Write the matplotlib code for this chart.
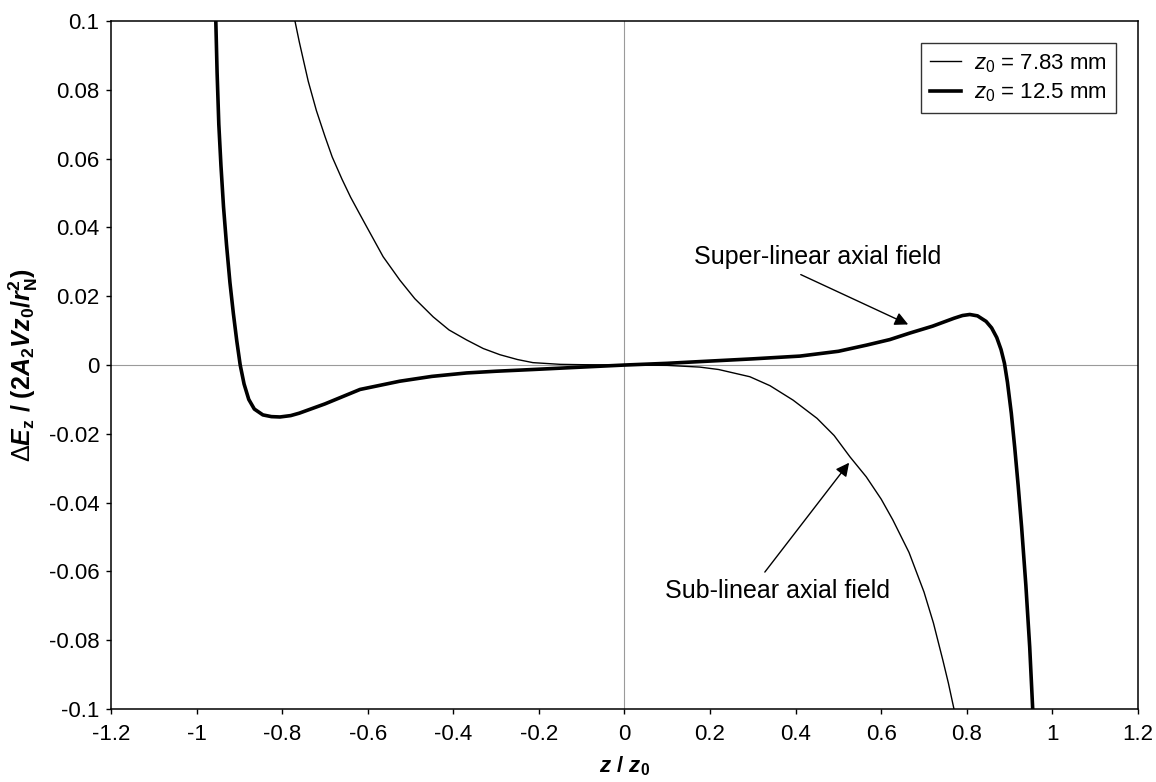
import numpy as np
import matplotlib
matplotlib.use("Agg")
import matplotlib.pyplot as plt
from matplotlib.ticker import FuncFormatter

plt.rcParams["font.family"] = ["Liberation Sans", "DejaVu Sans"]
plt.rcParams["mathtext.fontset"] = "custom"
plt.rcParams["mathtext.rm"] = "Liberation Sans"
plt.rcParams["mathtext.it"] = "Liberation Sans:italic"
plt.rcParams["mathtext.bf"] = "Liberation Sans:bold"
plt.rcParams["mathtext.bfit"] = "Liberation Sans:bold:italic"
plt.rcParams["axes.unicode_minus"] = False

# ─── data ────────────────────────────────────────────────────────────────────
# z0 = 7.83 mm (thin curve)
z_thin = [-0.770, -0.760, -0.750, -0.739, -0.720, -0.700, -0.683, -0.660,
          -0.640, -0.620, -0.602, -0.564, -0.525, -0.490, -0.447, -0.410,
          -0.369, -0.330, -0.291, -0.250, -0.214, -0.150, -0.100, 0.0,
          0.100, 0.176, 0.220, 0.293, 0.340, 0.394, 0.450, 0.490, 0.527,
          0.565, 0.600, 0.627, 0.665, 0.700, 0.722, 0.744, 0.757, 0.770]
dE_thin = [0.100, 0.094, 0.0885, 0.0825, 0.0740, 0.0665, 0.0605, 0.0540,
           0.0488, 0.0442, 0.0401, 0.0315, 0.0247, 0.0193, 0.0140, 0.0102,
           0.0073, 0.0048, 0.0030, 0.0016, 0.0007, 0.0002, 0.0001, 0.0,
           -0.0001, -0.0006, -0.0013, -0.0034, -0.0060, -0.0102, -0.0155,
           -0.0205, -0.0267, -0.0325, -0.0390, -0.0450, -0.0545, -0.0660,
           -0.0750, -0.0858, -0.0925, -0.100]

# z0 = 12.5 mm (thick curve)
z_thick = [-0.955, -0.952, -0.948, -0.943, -0.937, -0.930, -0.922, -0.914,
           -0.906, -0.898, -0.889, -0.878, -0.865, -0.845, -0.825, -0.805,
           -0.780, -0.760, -0.700, -0.618, -0.525, -0.450, -0.369, -0.300,
           -0.214, -0.100, 0.0, 0.100, 0.176, 0.300, 0.410, 0.500, 0.566,
           0.620, 0.667, 0.720, 0.770, 0.790, 0.807, 0.825, 0.845, 0.858,
           0.870, 0.880, 0.888, 0.895, 0.904, 0.912, 0.920, 0.928, 0.938,
           0.947, 0.954]
dE_thick = [0.100, 0.085, 0.070, 0.058, 0.046, 0.035, 0.024, 0.015,
            0.007, 0.0, -0.0055, -0.0100, -0.0128, -0.0145, -0.0150, -0.0151,
            -0.0147, -0.0140, -0.0113, -0.0071, -0.0047, -0.0033, -0.0023,
            -0.0018, -0.0013, -0.0006, 0.0, 0.0005, 0.0010, 0.0018, 0.0026,
            0.0040, 0.0058, 0.0074, 0.0093, 0.0113, 0.0136, 0.0144, 0.0147,
            0.0143, 0.0127, 0.0108, 0.0080, 0.0045, 0.0005, -0.0050,
            -0.0140, -0.0240, -0.0350, -0.0470, -0.0640, -0.0820, -0.1000]

x_ticks = np.arange(-1.2, 1.21, 0.2)
y_ticks = np.arange(-0.1, 0.101, 0.02)


def tick_fmt(v, pos):
    v = round(v, 4)
    if abs(v) < 1e-9:
        return "0"
    return f"{v:g}"


# ─── figure ──────────────────────────────────────────────────────────────────
fig = plt.figure(figsize=(11.56, 7.82), dpi=100)
ax = fig.add_axes([0.096, 0.0934, 0.8884, 0.8796])

ax.axhline(0, color="#9a9a9a", linewidth=0.8, zorder=1)
ax.axvline(0, color="#9a9a9a", linewidth=0.8, zorder=1)

ax.plot(z_thin, dE_thin, color="black", linewidth=1.0,
        label=r"$\it{z}_\mathrm{0}$ = 7.83 mm", zorder=3)
ax.plot(z_thick, dE_thick, color="black", linewidth=2.6,
        label=r"$\it{z}_\mathrm{0}$ = 12.5 mm", zorder=3)

ax.set_xlim(-1.2, 1.2)
ax.set_ylim(-0.1, 0.1)
ax.set_xticks(x_ticks)
ax.set_yticks(y_ticks)
ax.xaxis.set_major_formatter(FuncFormatter(tick_fmt))
ax.yaxis.set_major_formatter(FuncFormatter(tick_fmt))
ax.tick_params(axis="both", direction="out", length=3.5, width=1.0,
               labelsize=16, colors="black")
ax.tick_params(axis="y", pad=5)
ax.tick_params(axis="x", pad=7)
for s in ax.spines.values():
    s.set_linewidth(1.1)
    s.set_color("black")

ax.set_xlabel(r"$\mathbfit{z}\ \mathbf{/}\ \mathbfit{z}_\mathbf{0}$",
              fontsize=16, labelpad=7)
ax.set_ylabel(r"$\Delta\mathbfit{E}_\mathbf{z}\ \mathbf{/\ (2}\mathbfit{A}_\mathbf{2}"
              r"\mathbfit{Vz}_\mathbf{0}\mathbf{/}\mathbfit{r}_\mathbf{N}^\mathbf{2}\mathbf{)}$",
              fontsize=18, labelpad=6)

# annotations: label text plus separate arrow (tail, head)
arrow_kw = dict(arrowstyle="-|>", color="black", lw=1.0,
                mutation_scale=20, shrinkA=0, shrinkB=0)
ax.text(0.452, 0.0315, "Super-linear axial field", ha="center", va="center",
        fontsize=18)
ax.annotate("", xy=(0.663, 0.0118), xytext=(0.412, 0.0263), arrowprops=arrow_kw)
ax.text(0.357, -0.0658, "Sub-linear axial field", ha="center", va="center",
        fontsize=18)
ax.annotate("", xy=(0.525, -0.0284), xytext=(0.328, -0.0602), arrowprops=arrow_kw)

leg = ax.legend(loc="upper right", fontsize=16, frameon=True, fancybox=False,
                handlelength=1.4, handletextpad=0.6, borderpad=0.4,
                labelspacing=0.3, borderaxespad=1.0)
leg.get_frame().set_edgecolor("black")
leg.get_frame().set_linewidth(1.0)

plt.savefig("out.png", dpi=100)
